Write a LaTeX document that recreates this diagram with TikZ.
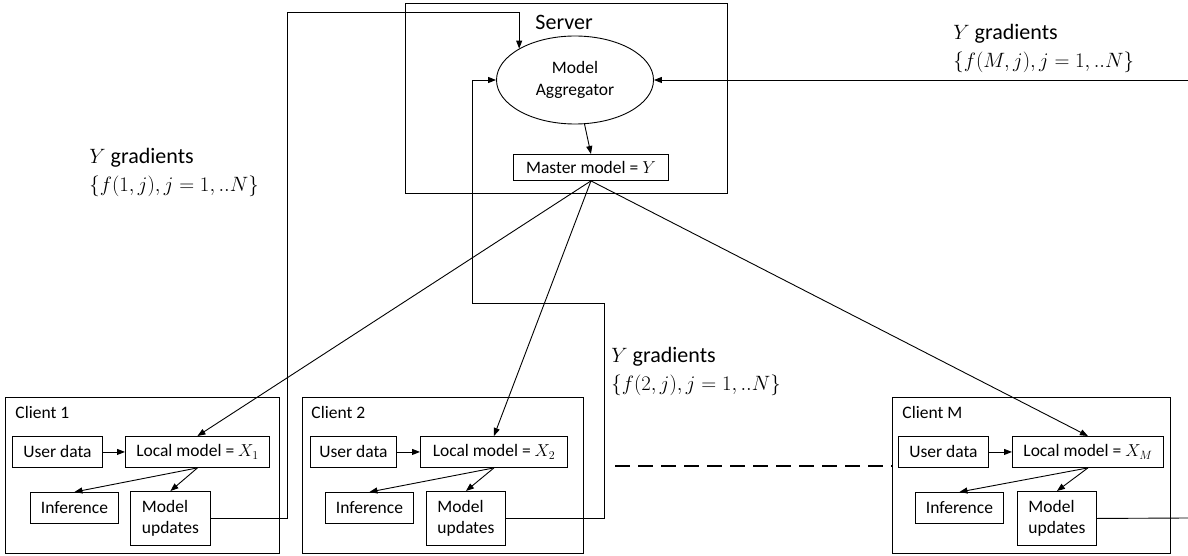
\documentclass[tikz,border=0pt]{standalone}
\usepackage{fontspec}
\setmainfont{Carlito}
\usetikzlibrary{arrows.meta, positioning, shapes.geometric}

\begin{document}
\begin{tikzpicture}[
    x=1pt, y=-1pt,
    line width=0.9pt,
    box/.style={
        rectangle,
        draw,
        inner sep=0pt,
        anchor=north west,
        align=center
    },
    frame/.style={
        rectangle,
        draw,
        inner sep=0pt,
        anchor=north west
    },
    gradlabel/.style={
        anchor=west,
        align=left,
        inner sep=0pt,
        font=\fontsize{22}{28}\selectfont
    },
    >={Triangle[length=8pt, width=6pt]},
    every node/.style={font=\fontsize{17.5}{21}\selectfont}
]
\useasboundingbox (0,0) rectangle (1188,556);

% server side
\node[frame, minimum width=322pt, minimum height=190pt] (server) at (405,3) {};
\node[anchor=west, inner sep=0pt, font=\fontsize{22}{26}\selectfont] (servername) at (535,22) {Server};
\node[ellipse, draw, minimum width=157pt, minimum height=88pt, inner sep=0pt, align=center, font=\fontsize{17.5}{22}\selectfont] (agg) at (575,80) {Model\\Aggregator};
\node[box, minimum width=155pt, minimum height=26pt] (master) at (513,154) {Master model = $Y$};

% client 1
\node[frame, minimum width=274pt, minimum height=156pt] (c1) at (5,397) {};
\node[anchor=west, inner sep=0pt] (c1name) at (15,412) {Client 1};
\node[box, minimum width=90pt, minimum height=31pt] (ud1) at (12,436) {User data};
\node[box, minimum width=144pt, minimum height=31pt] (lm1) at (125,436) {Local model = $X_1$};
\node[box, minimum width=88pt, minimum height=31pt] (inf1) at (30,492) {Inference};
\node[box, minimum width=80pt, minimum height=54pt, align=left] (mu1) at (130,491) {Model\\updates};

% client 2
\node[frame, minimum width=281pt, minimum height=156pt] (c2) at (302,397) {};
\node[anchor=west, inner sep=0pt] (c2name) at (311,412) {Client 2};
\node[box, minimum width=86pt, minimum height=31pt] (ud2) at (310,436) {User data};
\node[box, minimum width=147pt, minimum height=31pt] (lm2) at (420,436) {Local model = $X_2$};
\node[box, minimum width=88pt, minimum height=31pt] (inf2) at (325,492) {Inference};
\node[box, minimum width=79pt, minimum height=54pt, align=left] (mu2) at (426,491) {Model\\updates};

% client M
\node[frame, minimum width=278pt, minimum height=156pt] (cM) at (892,397) {};
\node[anchor=west, inner sep=0pt] (cMname) at (902,412) {Client M};
\node[box, minimum width=90pt, minimum height=31pt] (udM) at (898,436) {User data};
\node[box, minimum width=151pt, minimum height=31pt] (lmM) at (1012,436) {Local model = $X_M$};
\node[box, minimum width=88pt, minimum height=31pt] (infM) at (915,492) {Inference};
\node[box, minimum width=79pt, minimum height=54pt, align=left] (muM) at (1017,491) {Model\\updates};

% gradient labels
\node[gradlabel] (grad1) at (89,172) {$Y$ gradients\\$\{f(1,j), j=1,..N\}$};
\node[gradlabel] (grad2) at (611,371) {$Y$ gradients\\$\{f(2,j), j=1,..N\}$};
\node[gradlabel] (gradM) at (953,48) {$Y$ gradients\\$\{f(M,j), j=1,..N\}$};

% waypoints
\coordinate (up1) at (287,12);
\coordinate (up2) at (604,303);
\coordinate (left2) at (472,80);
\coordinate (outM) at (1188,518);
\coordinate (inM) at (1188,80);
\coordinate (dashstart) at (615,466);

% inside server
\draw[->] (agg) -- (master.north);

% master model out to clients
\draw[->] (master.south) -- (lm1.north);
\draw[->] (master.south) -- (lm2.north);
\draw[->] (master.south) -- (lmM.north);

% inside clients
\draw[->] (ud1) -- (lm1);
\draw[->] (lm1.south) -- (inf1.north);
\draw[->] (lm1.south) -- (mu1.north);
\draw[->] (ud2) -- (lm2);
\draw[->] (lm2.south) -- (inf2.north);
\draw[->] (lm2.south) -- (mu2.north);
\draw[->] (udM) -- (lmM);
\draw[->] (lmM.south) -- (infM.north);
\draw[->] (lmM.south) -- (muM.north);

% gradients back to server
\draw[->] (mu1.east) -| (up1) -| (agg.north west);
\draw[->] (mu2.east) -| (up2) -| (left2) -- (agg.west);
\draw (muM.east) -- (outM);
\draw[->] (inM) -- (agg.east);

% more clients
\draw[line width=2.5pt, dash pattern=on 15pt off 8pt] (dashstart) -- (dashstart -| cM.west);

\end{tikzpicture}
\end{document}
